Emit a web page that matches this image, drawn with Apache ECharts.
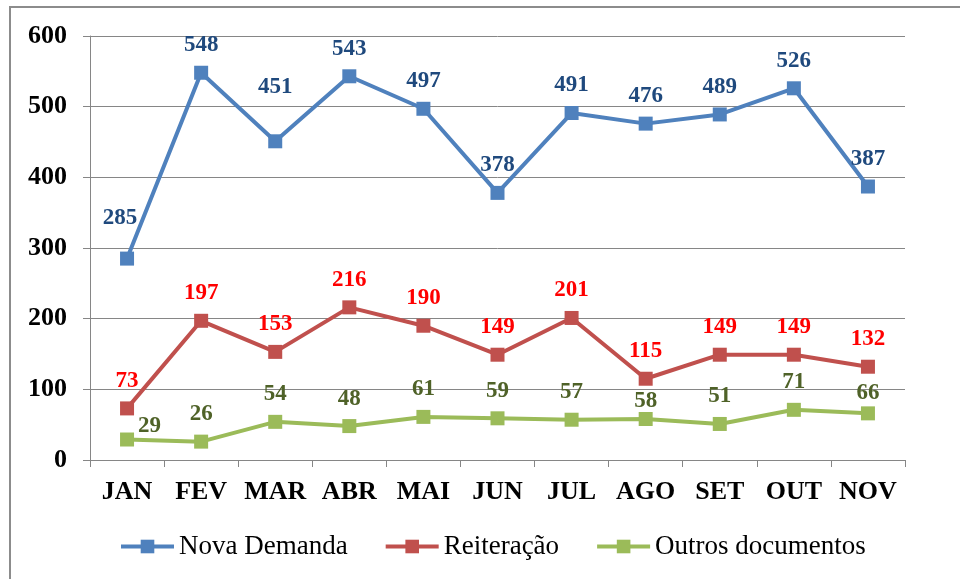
<!DOCTYPE html>
<html>
<head>
<meta charset="utf-8">
<script src="https://cdn.jsdelivr.net/npm/echarts@6/dist/echarts.min.js"></script>
<style>
  html, body { margin: 0; padding: 0; background: #fff; }
</style>
</head>
<body>
<div id="myChart" style="width: 960px; height: 579px;"></div>
<script>
// meses
var months = ['JAN', 'FEV', 'MAR', 'ABR', 'MAI', 'JUN', 'JUL', 'AGO', 'SET', 'OUT', 'NOV'];
// valores
var novaDemanda = [285, 548, 451, 543, 497, 378, 491, 476, 489, 526, 387];
var reiteracao = [73, 197, 153, 216, 190, 149, 201, 115, 149, 149, 132];
var outrosDocs = [29, 26, 54, 48, 61, 59, 57, 58, 51, 71, 66];
var yTicks = [0, 100, 200, 300, 400, 500, 600];

var serif = 'Liberation Serif';

function makeSeries(name, values, lineColor, labelColor, specialLabels) {
  return {
    name: name,
    type: 'line',
    data: values.map(function (v, i) {
      var item = { value: v };
      if (specialLabels && specialLabels[i]) item.label = specialLabels[i];
      return item;
    }),
    symbol: 'rect',
    symbolSize: 14,
    lineStyle: { width: 4, color: lineColor },
    itemStyle: { color: lineColor },
    label: {
      show: true,
      position: 'top',
      distance: 9,
      color: labelColor,
      fontFamily: serif,
      fontWeight: 'bold',
      fontSize: 23
    },
    emphasis: { disabled: true }
  };
}

var chart = echarts.init(document.getElementById('myChart'));
chart.setOption({
  animation: false,
  graphic: [{
    type: 'rect',
    shape: { x: 10, y: 7, width: 960, height: 620 },
    style: { fill: 'none', stroke: '#8c8c8c', lineWidth: 2 },
    z: -1
  }],
  grid: { left: 90, right: 55, top: 36, bottom: 119 },
  legend: {
    top: 528,
    left: 114,
    itemWidth: 53,
    itemHeight: 17,
    itemGap: 36,
    lineStyle: { width: 4 },
    textStyle: { fontFamily: serif, fontSize: 27, color: '#000' },
    data: ['Nova Demanda', 'Reiteração', 'Outros documentos']
  },
  xAxis: {
    type: 'category',
    data: months,
    boundaryGap: true,
    axisLine: { lineStyle: { color: '#868686', width: 1 } },
    axisTick: { show: true, length: 7, interval: 0, lineStyle: { color: '#868686' } },
    axisLabel: { interval: 0, margin: 19, color: '#000', fontFamily: serif, fontWeight: 'bold', fontSize: 26 }
  },
  yAxis: {
    type: 'value',
    min: yTicks[0],
    max: yTicks[yTicks.length - 1],
    interval: 100,
    axisLine: { show: true, lineStyle: { color: '#868686', width: 1 } },
    axisTick: { show: true, length: 7, lineStyle: { color: '#868686' } },
    splitLine: { lineStyle: { color: '#868686', width: 1 } },
    axisLabel: { margin: 23, color: '#000', fontFamily: serif, fontWeight: 'bold', fontSize: 26 }
  },
  series: [
    makeSeries('Nova Demanda', novaDemanda, '#4F81BD', '#1F497D', {
      0: { offset: [-7, -13] },
      2: { offset: [0, -27] }
    }),
    makeSeries('Reiteração', reiteracao, '#C0504D', '#FF0000'),
    makeSeries('Outros documentos', outrosDocs, '#9BBB59', '#4F6228', {
      0: { position: 'right', offset: [0, -13], distance: 4 },
      7: { offset: [0, 10] },
      10: { offset: [0, 7] }
    })
  ]
});
</script>
</body>
</html>
